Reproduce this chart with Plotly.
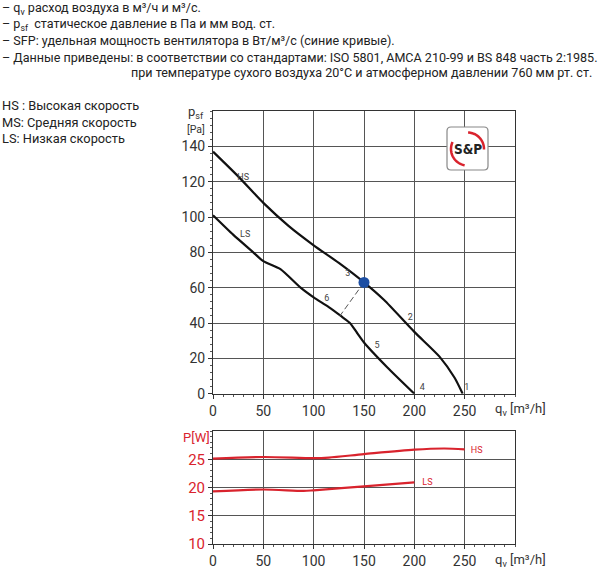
import math
import plotly.graph_objects as go

W, H = 600, 569
FONT = "Roboto"
RED = "#d9232d"

# ---- data ----
hs_q = [0, 25, 50, 75, 100, 125, 150, 170, 200, 225, 240, 248]
hs_p = [137, 123, 108, 95, 84, 74, 63, 53, 35, 21, 9, 0]
ls_q = [0, 20, 40, 50, 67, 87, 100, 115, 127, 136, 143, 150, 173, 200]
ls_p = [101, 90, 80, 75, 70.5, 60, 54.5, 49, 44, 40, 34.5, 29, 15, 0]
op_q = [150]
op_p = [63]
link_q = [150, 126]
link_p = [63, 44]
pt_labels = ["1", "2", "3", "4", "5", "6"]
pt_q = [252, 196, 134, 208, 163, 113]
pt_p = [3.5, 43, 68, 3.5, 27, 54]

pw_hs_q = [0, 50, 100, 115, 150, 200, 230, 250]
pw_hs = [25.1, 25.4, 25.2, 25.3, 25.9, 26.7, 26.9, 26.75]
pw_ls_q = [0, 50, 90, 100, 150, 200]
pw_ls = [19.3, 19.65, 19.4, 19.5, 20.2, 20.9]

x_ticks = [0, 50, 100, 150, 200, 250]
y_ticks = [0, 20, 40, 60, 80, 100, 120, 140]
p_ticks = [10, 15, 20, 25]

def px(x):
    return x / W

def py(y):
    return 1 - y / H

fig = go.Figure()

line_kw = dict(color="#111", width=2.2, shape="spline", smoothing=0.6)
fig.add_trace(go.Scatter(x=hs_q, y=hs_p, mode="lines", line=line_kw, xaxis="x", yaxis="y", hoverinfo="skip"))
fig.add_trace(go.Scatter(x=ls_q, y=ls_p, mode="lines", line=line_kw, xaxis="x", yaxis="y", hoverinfo="skip"))
fig.add_trace(go.Scatter(x=link_q, y=link_p, mode="lines", line=dict(color="#555", width=1, dash="6px,3px"),
                         xaxis="x", yaxis="y", hoverinfo="skip"))
fig.add_trace(go.Scatter(x=op_q, y=op_p, mode="markers", marker=dict(color="#1d4fa3", size=11),
                         xaxis="x", yaxis="y", hoverinfo="skip"))
fig.add_trace(go.Scatter(x=pt_q, y=pt_p, mode="text", text=pt_labels,
                         textfont=dict(family=FONT, size=9, color="#444"), xaxis="x", yaxis="y", hoverinfo="skip"))
fig.add_trace(go.Scatter(x=[30, 32], y=[122, 90], mode="text", text=["HS", "LS"],
                         textfont=dict(family=FONT, size=9, color="#444"), xaxis="x", yaxis="y", hoverinfo="skip"))

red_kw = dict(color=RED, width=2.2, shape="spline", smoothing=0.8)
fig.add_trace(go.Scatter(x=pw_hs_q, y=pw_hs, mode="lines", line=red_kw, xaxis="x2", yaxis="y2", hoverinfo="skip"))
fig.add_trace(go.Scatter(x=pw_ls_q, y=pw_ls, mode="lines", line=red_kw, xaxis="x2", yaxis="y2", hoverinfo="skip"))
fig.add_trace(go.Scatter(x=[262, 213], y=[26.5, 20.9], mode="text", text=["HS", "LS"],
                         textfont=dict(family=FONT, size=9, color=RED), xaxis="x2", yaxis="y2", hoverinfo="skip"))

xdom = [px(213), px(515)]
axis_common = dict(showline=True, mirror=True, linecolor="#333", linewidth=1,
                   showgrid=True, gridcolor="#555", gridwidth=1, zeroline=False, automargin=False,
                   ticks="outside", ticklen=4, tickcolor="#333")

fig.update_layout(
    width=W, height=H, margin=dict(l=0, r=0, t=0, b=0, autoexpand=False),
    paper_bgcolor="white", plot_bgcolor="white", showlegend=False,
    font=dict(family=FONT, color="#222"),
    xaxis=dict(domain=xdom, range=[0, 300], tickvals=x_ticks, anchor="y",
               tickfont=dict(size=14, color="#333"),
               minor=dict(dtick=10, ticks="outside", ticklen=2, tickcolor="#555", showgrid=False),
               **axis_common),
    yaxis=dict(domain=[py(393.7), py(111)], range=[0, 160], tickvals=y_ticks, anchor="x",
               tickfont=dict(size=14, color="#333"),
               minor=dict(dtick=4, ticks="outside", ticklen=2, tickcolor="#555", showgrid=False),
               **axis_common),
    xaxis2=dict(domain=xdom, range=[0, 300], tickvals=x_ticks, anchor="y2",
                tickfont=dict(size=14, color="#333"),
                minor=dict(dtick=10, ticks="outside", ticklen=2, tickcolor="#555", showgrid=False),
                **axis_common),
    yaxis2=dict(domain=[py(544), py(431)], range=[10, 30], tickvals=p_ticks, anchor="x2",
                tickfont=dict(size=15, color=RED),
                minor=dict(dtick=1, ticks="outside", ticklen=2, tickcolor="#555", showgrid=False),
                **axis_common),
)

ann = []
def text(x, y, s, size=13, color="#222", xanchor="left", yanchor="middle", family=FONT):
    ann.append(dict(x=px(x), y=py(y), xref="paper", yref="paper", text=s, showarrow=False,
                    xanchor=xanchor, yanchor=yanchor, font=dict(family=family, size=size, color=color)))

TS = 12.55
text(0, 8, "– q<sub>v</sub> расход воздуха в м³/ч и м³/с.", size=TS)
text(0, 24, "– p<sub>sf</sub>  статическое давление в Па и мм вод. ст.", size=TS)
text(0, 40, "– SFP: удельная мощность вентилятора в Вт/м³/с (синие кривые).", size=TS)
text(0, 57, "– Данные приведены: в соответствии со стандартами: ISO 5801, AMCA 210-99 и BS 848 часть 2:1985.", size=TS)
text(594, 73, "при температуре сухого воздуха 20°C и атмосферном давлении 760 мм рт. ст.", size=TS, xanchor="right")

text(0, 105, "HS : Высокая скорость", size=12.8)
text(0, 122, "MS: Средняя скорость", size=12.8)
text(0, 138, "LS: Низкая скорость", size=12.8)

text(186, 112, "p<sub>sf</sub>", size=13, color="#333")
text(185, 129.5, "[Pa]", size=10.5, color="#333")
text(493, 409, "q<sub>v</sub> [m³/h]", size=13, color="#333")
text(493, 560, "q<sub>v</sub> [m³/h]", size=13, color="#333")
text(196, 437, "P[W]", size=13, color=RED, xanchor="center")

# logo
text(467.5, 149, "<b>S&amp;P</b>", size=13.5, color="#222", xanchor="center",
     family="DejaVu Sans Condensed, Liberation Sans Narrow, Roboto")
fig.update_layout(annotations=ann)

shapes = []
x0, x1, y0, y1, r = 447, 488, 127, 170, 4
path = (f"M {px(x0+r)},{py(y0)} L {px(x1-r)},{py(y0)} Q {px(x1)},{py(y0)} {px(x1)},{py(y0+r)} "
        f"L {px(x1)},{py(y1-r)} Q {px(x1)},{py(y1)} {px(x1-r)},{py(y1)} "
        f"L {px(x0+r)},{py(y1)} Q {px(x0)},{py(y1)} {px(x0)},{py(y1-r)} "
        f"L {px(x0)},{py(y0+r)} Q {px(x0)},{py(y0)} {px(x0+r)},{py(y0)} Z")
shapes.append(dict(type="path", path=path, xref="paper", yref="paper",
                   line=dict(color="#888", width=1.2), fillcolor="white", layer="above"))

def arc(cx, cy, rad, a0, a1, n=24):
    pts = []
    for i in range(n + 1):
        a = math.radians(a0 + (a1 - a0) * i / n)
        pts.append((px(cx + rad * math.cos(a)), py(cy + rad * math.sin(a))))
    return "M " + " L ".join(f"{x},{y}" for x, y in pts)

for a0, a1 in [(100, 205), (272, 362)]:
    shapes.append(dict(type="path", path=arc(467.5, 149, 16.5, a0, a1), xref="paper", yref="paper",
                       line=dict(color=RED, width=2.5), layer="above"))
fig.update_layout(shapes=shapes)

fig.write_html("out.html", config={"displayModeBar": False},
               post_script="document.body.style.margin='0';document.body.style.padding='0';")
